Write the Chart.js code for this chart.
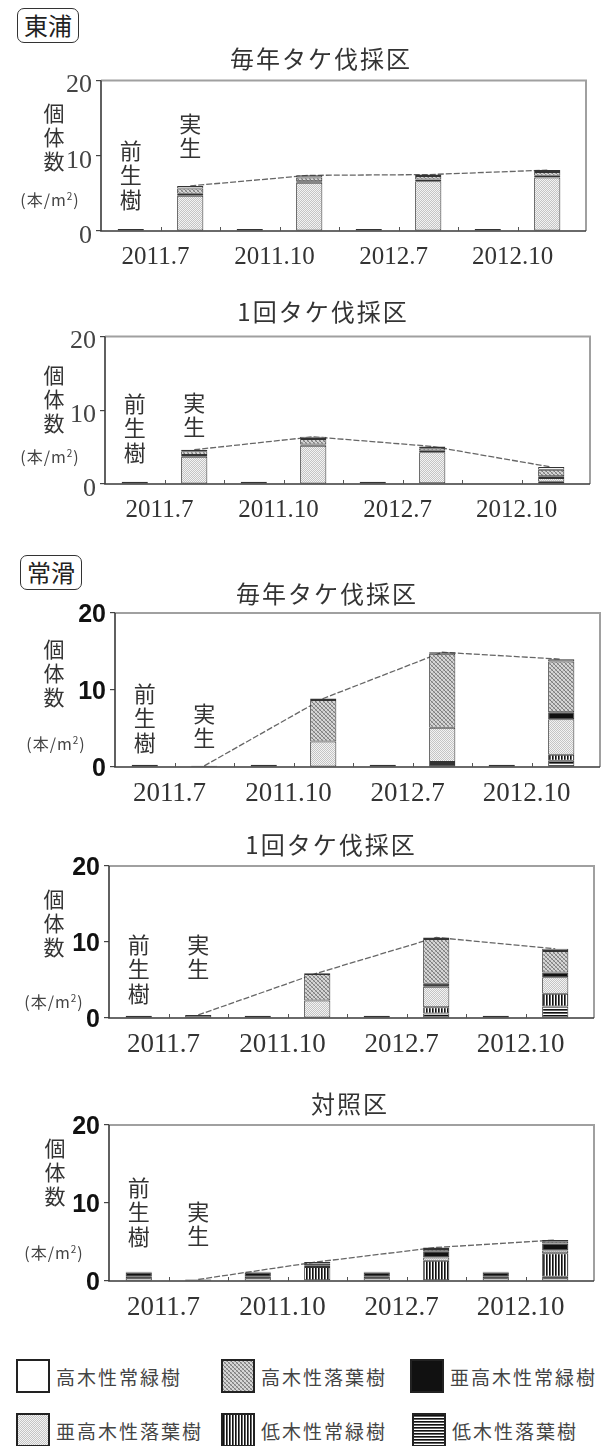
<!DOCTYPE html>
<html lang="ja">
<head>
<meta charset="utf-8">
<title>個体数の推移</title>
<script src="https://cdn.jsdelivr.net/npm/chart.js@4.4.1/dist/chart.umd.min.js"></script>
<style>
  html, body { margin:0; padding:0; background:#fff; }
  body { position:relative; width:616px; height:1446px; overflow:hidden;
         font-family:"Noto Sans CJK JP", "Noto Sans", sans-serif; color:#333; }
  canvas.panel { position:absolute; left:0; }
  .site { position:absolute; height:35px; line-height:32px; font-size:24px; padding:0 6px;
          border:1.6px solid #333; border-radius:7px; box-sizing:border-box; color:#222; }
  .ttl { position:absolute; font-size:24px; letter-spacing:2px; white-space:nowrap;
         transform:translate(-50%,-50%); color:#333; }
  .vt { position:absolute; width:26px; text-align:center; color:#333; }
  .unit { position:absolute; font-size:16px; white-space:nowrap; transform:translate(-50%,-50%);
          color:#444; letter-spacing:1px; }
  .unit sup { font-size:10px; }
  .lg { position:absolute; display:flex; align-items:center; font-size:19px; letter-spacing:2px;
        color:#444; white-space:nowrap; transform:translateY(-50%); }
  .lg canvas { border:2px solid #222; box-sizing:border-box; margin-right:6px; }
</style>
</head>
<body>
<script>
// categories: each sampling date holds an advance-growth bar (前生樹) and a seedling bar (実生)
const categories = ['2011.7 前生樹', '2011.7 実生', '2011.10 前生樹', '2011.10 実生',
                    '2012.7 前生樹', '2012.7 実生', '2012.10 前生樹', '2012.10 実生'];
const dateLabels = ['2011.7', '2011.10', '2012.7', '2012.10'];
const yTicks = [0, 10, 20];

// 東浦 毎年タケ伐採区 (本/m2)
const hA_shrubDecid = [0, 0, 0, 0, 0, 0, 0, 0];
const hA_shrubEver  = [0, 0, 0, 0, 0, 0, 0, 0];
const hA_subDecid   = [0.25, 4.7, 0.25, 6.4, 0.25, 6.6, 0.25, 7.1];
const hA_subEver    = [0, 0.25, 0, 0.2, 0, 0.25, 0, 0.25];
const hA_tallDecid  = [0, 0.7, 0, 0.5, 0, 0.45, 0, 0.5];
const hA_tallEver   = [0, 0.35, 0, 0.3, 0, 0.2, 0, 0.25];

// 東浦 1回タケ伐採区
const hO_shrubDecid = [0.3, 0, 0.3, 0, 0.3, 0.1, 0, 0.3];
const hO_shrubEver  = [0, 0, 0, 0, 0, 0, 0, 0];
const hO_subDecid   = [0, 3.7, 0, 5.2, 0, 4.2, 0, 0.5];
const hO_subEver    = [0, 0.25, 0, 0.15, 0, 0.2, 0, 0.25];
const hO_tallDecid  = [0, 0.5, 0, 0.75, 0, 0.35, 0, 0.9];
const hO_tallEver   = [0, 0.2, 0, 0.3, 0, 0.25, 0, 0.35];

// 常滑 毎年タケ伐採区
const tA_shrubDecid = [0.3, 0, 0.3, 0, 0.3, 0.4, 0.3, 0.8];
const tA_shrubEver  = [0, 0, 0, 0, 0, 0.25, 0, 0.8];
const tA_subDecid   = [0, 0.15, 0, 3.3, 0, 4.45, 0, 4.6];
const tA_subEver    = [0, 0, 0, 0, 0, 0, 0, 0.9];
const tA_tallDecid  = [0, 0, 0, 5.4, 0, 9.6, 0, 6.6];
const tA_tallEver   = [0, 0, 0, 0.2, 0, 0.2, 0, 0.3];

// 常滑 1回タケ伐採区
const tO_shrubDecid = [0.3, 0.4, 0.3, 0, 0.3, 0.6, 0.3, 1.5];
const tO_shrubEver  = [0, 0, 0, 0, 0, 0.8, 0, 1.7];
const tO_subDecid   = [0, 0, 0, 2.3, 0, 2.7, 0, 2.15];
const tO_subEver    = [0, 0, 0, 0, 0, 0.4, 0, 0.65];
const tO_tallDecid  = [0, 0, 0, 3.5, 0, 5.9, 0, 2.8];
const tO_tallEver   = [0, 0, 0, 0.1, 0, 0.2, 0, 0.3];

// 常滑 対照区
const tC_shrubDecid = [0.55, 0.2, 0.55, 0.1, 0.55, 0.1, 0.55, 0.55];
const tC_shrubEver  = [0, 0, 0, 1.7, 0, 2.5, 0, 3.0];
const tC_subDecid   = [0, 0, 0, 0.15, 0, 0.4, 0, 0.35];
const tC_subEver    = [0.55, 0, 0.55, 0.3, 0.55, 0.8, 0.55, 0.9];
const tC_tallDecid  = [0, 0, 0, 0, 0, 0.3, 0, 0.3];
const tC_tallEver   = [0.1, 0, 0.1, 0.2, 0.1, 0.2, 0.1, 0.15];

// ---------- fills ----------
function tile(w, h, paint) {
  const c = document.createElement('canvas');
  c.width = w; c.height = h;
  const g = c.getContext('2d');
  paint(g);
  return g.createPattern(c, 'repeat');
}
const FILL = {
  tallEver: '#ffffff',
  tallDecid: tile(4, 4, g => {
    g.fillStyle = '#d6d6d6'; g.fillRect(0, 0, 4, 4);
    for (let i = 0; i < 4; i++) {
      g.fillStyle = '#7c7c7c'; g.fillRect(i, i, 1, 1);
      g.fillStyle = '#aaaaaa'; g.fillRect(3 - i, i, 1, 1);
    }
  }),
  subEver: '#111111',
  subDecid: tile(2, 2, g => {
    g.fillStyle = '#f3f3f3'; g.fillRect(0, 0, 2, 2);
    g.fillStyle = '#c4c4c4'; g.fillRect(0, 0, 1, 1); g.fillRect(1, 1, 1, 1);
  }),
  shrubEver: tile(3, 1, g => {
    g.fillStyle = '#ffffff'; g.fillRect(0, 0, 3, 1);
    g.fillStyle = '#111111'; g.fillRect(0, 0, 1, 1);
    g.fillStyle = '#666666'; g.fillRect(1, 0, 1, 1);
  }),
  shrubDecid: tile(1, 3, g => {
    g.fillStyle = '#ffffff'; g.fillRect(0, 0, 1, 3);
    g.fillStyle = '#111111'; g.fillRect(0, 0, 1, 1);
    g.fillStyle = '#666666'; g.fillRect(0, 1, 1, 1);
  })
};

// ---------- frame & x tick marks ----------
const EXTRA = 9;
const framePlugin = {
  id: 'frame',
  afterDatasetsDraw(chart) {
    const { ctx, chartArea: a, scales: { x } } = chart;
    const r = a.right + EXTRA;
    ctx.save();
    ctx.strokeStyle = '#a0a0a0'; ctx.lineWidth = 2;
    ctx.beginPath(); ctx.moveTo(a.left, a.top); ctx.lineTo(r, a.top); ctx.lineTo(r, a.bottom); ctx.stroke();
    ctx.strokeStyle = '#3a3a3a'; ctx.lineWidth = 1.6;
    ctx.beginPath(); ctx.moveTo(a.left, a.top); ctx.lineTo(a.left, a.bottom); ctx.lineTo(r, a.bottom); ctx.stroke();
    ctx.strokeStyle = '#555'; ctx.lineWidth = 1;
    for (let i = 1; i < categories.length; i++) {
      const px = Math.round((x.getPixelForValue(i - 1) + x.getPixelForValue(i)) / 2) + 0.5;
      ctx.beginPath(); ctx.moveTo(px, a.bottom); ctx.lineTo(px, a.bottom - 4); ctx.stroke();
    }
    ctx.restore();
  }
};

// ---------- layout of the five panels ----------
const PLOT_W = 476, PAD_T = 16, AXIS_H = 42;
const panels = [
  { left: 101, top: 77,   bottom: 231,  serif: true,  title: '毎年タケ伐採区', tx: 321, ty: 57,
    ytY: 112, ytX: 54, unitY: 199, unitX: 50, zenY: 149, miY: 122,
    s: [hA_shrubDecid, hA_shrubEver, hA_subDecid, hA_subEver, hA_tallDecid, hA_tallEver] },
  { left: 105, top: 333,  bottom: 484,  serif: true,  title: '1回タケ伐採区', tx: 323, ty: 310,
    ytY: 374, ytX: 54, unitY: 456, unitX: 50, zenY: 402, miY: 401,
    s: [hO_shrubDecid, hO_shrubEver, hO_subDecid, hO_subEver, hO_tallDecid, hO_tallEver] },
  { left: 115, top: 610,  bottom: 767,  serif: false, title: '毎年タケ伐採区', tx: 327, ty: 592,
    ytY: 648, ytX: 54, unitY: 743, unitX: 56, zenY: 692, miY: 712,
    s: [tA_shrubDecid, tA_shrubEver, tA_subDecid, tA_subEver, tA_tallDecid, tA_tallEver] },
  { left: 109, top: 863,  bottom: 1018, serif: false, title: '1回タケ伐採区', tx: 331, ty: 843,
    ytY: 898, ytX: 54, unitY: 1001, unitX: 54, zenY: 943, miY: 943,
    s: [tO_shrubDecid, tO_shrubEver, tO_subDecid, tO_subEver, tO_tallDecid, tO_tallEver] },
  { left: 109, top: 1122, bottom: 1281, serif: false, title: '対照区', tx: 350, ty: 1102,
    ytY: 1147, ytX: 55, unitY: 1252, unitX: 54, zenY: 1186, miY: 1210,
    s: [tC_shrubDecid, tC_shrubEver, tC_subDecid, tC_subEver, tC_tallDecid, tC_tallEver] }
];

// stack order from the bottom: 低木性落葉樹 → 高木性常緑樹
const stackKeys = ['shrubDecid', 'shrubEver', 'subDecid', 'subEver', 'tallDecid', 'tallEver'];
const stackNames = ['低木性落葉樹', '低木性常緑樹', '亜高木性落葉樹', '亜高木性常緑樹', '高木性落葉樹', '高木性常緑樹'];

function addEl(tag, cls, html, style) {
  const el = document.createElement(tag);
  if (cls) el.className = cls;
  el.innerHTML = html;
  Object.assign(el.style, style);
  document.body.appendChild(el);
  return el;
}
function vertical(text, cx, firstCy, size, lh) {
  addEl('div', 'vt', text.split('').join('<br>'), {
    left: (cx - 13) + 'px', top: (firstCy - lh / 2) + 'px',
    fontSize: size + 'px', lineHeight: lh + 'px'
  });
}

panels.forEach(p => {
  const cv = document.createElement('canvas');
  cv.className = 'panel';
  const h = PAD_T + (p.bottom - p.top) + AXIS_H;
  cv.width = 616; cv.height = h;
  cv.style.top = (p.top - PAD_T) + 'px';
  document.body.appendChild(cv);

  const datasets = stackKeys.map((k, j) => ({
    label: stackNames[j],
    data: p.s[j].map(v => (v > 0 ? v : null)),
    backgroundColor: FILL[k],
    borderColor: '#333',
    borderWidth: 1,
    borderSkipped: false,
    barPercentage: 0.44,
    categoryPercentage: 1,
    stack: 'veg',
    order: 0
  }));
  // seedling totals joined by a line
  const totals = categories.map((c, i) => (i % 2 === 1 ? p.s.reduce((acc, arr) => acc + arr[i], 0) : null));
  datasets.push({
    type: 'line', label: '合計', data: totals, stack: 'total', order: 5,
    borderColor: '#666', borderWidth: 1.3, borderDash: [6, 2], pointRadius: 0,
    spanGaps: true, fill: false, tension: 0
  });

  const tickFont = p.serif
    ? { family: '"Liberation Serif", serif', size: 26 }
    : { family: '"Liberation Sans", Arial, sans-serif', size: 25, weight: 'bold' };
  const dateFont = { family: '"Liberation Serif", serif', size: p.serif ? 25 : 27 };

  const chart = new Chart(cv, {
    type: 'bar',
    data: { labels: categories, datasets },
    options: {
      responsive: false, animation: false, devicePixelRatio: 1,
      layout: { padding: { top: PAD_T, right: 616 - p.left - PLOT_W, left: 0, bottom: 0 } },
      plugins: { legend: { display: false }, tooltip: { enabled: false } },
      scales: {
        x: { type: 'category', offset: true, stacked: true, display: false },
        xd: {
          type: 'category', labels: dateLabels, offset: true, position: 'bottom',
          grid: { display: false }, border: { display: false },
          ticks: { font: dateFont, color: '#333', padding: 3, maxRotation: 0, autoSkip: false, labelOffset: -5 },
          afterFit(s) { s.height = AXIS_H; }
        },
        y: {
          stacked: true, min: 0, max: 20,
          afterBuildTicks(s) { s.ticks = yTicks.map(v => ({ value: v })); },
          ticks: { font: tickFont, color: p.serif ? '#444' : '#111', padding: 4, labelOffset: p.serif ? 5 : 2 },
          grid: { drawOnChartArea: false, tickLength: 5, color: '#444', lineWidth: 1.2 },
          border: { display: false },
          afterFit(s) { s.width = p.left; }
        }
      }
    },
    plugins: [framePlugin]
  });

  addEl('div', 'ttl', p.title, { left: p.tx + 'px', top: p.ty + 'px' });
  vertical('個体数', p.ytX, p.ytY, 21, 24);
  addEl('div', 'unit', '(本/m<sup>2</sup>)', { left: p.unitX + 'px', top: p.unitY + 'px' });
  const xs = chart.scales.x;
  vertical('前生樹', xs.getPixelForValue(0), p.zenY, 22, 24.5);
  vertical('実生', xs.getPixelForValue(1), p.miY, 22, 24.5);
});

// site labels
addEl('div', 'site', '東浦', { left: '17px', top: '8px' });
addEl('div', 'site', '常滑', { left: '20px', top: '555px' });

// legend
const legendItems = [
  { key: 'tallEver',   x: 16,  y: 1376 },
  { key: 'tallDecid',  x: 221, y: 1376 },
  { key: 'subEver',    x: 410, y: 1376 },
  { key: 'subDecid',   x: 16,  y: 1430 },
  { key: 'shrubEver',  x: 221, y: 1430 },
  { key: 'shrubDecid', x: 412, y: 1430 }
];
legendItems.forEach(it => {
  const box = addEl('div', 'lg', '', { left: it.x + 'px', top: it.y + 'px' });
  const sw = document.createElement('canvas');
  sw.width = 30; sw.height = 30;
  const g = sw.getContext('2d');
  g.fillStyle = FILL[it.key]; g.fillRect(0, 0, 30, 30);
  box.appendChild(sw);
  const span = document.createElement('span');
  span.textContent = stackNames[stackKeys.indexOf(it.key)];
  box.appendChild(span);
});
</script>
</body>
</html>
